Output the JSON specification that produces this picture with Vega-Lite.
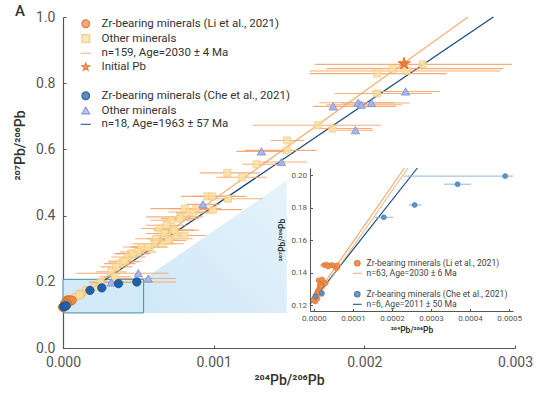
{
"$schema": "https://vega.github.io/schema/vega-lite/v6.json",
"width": 452, "height": 331,
"autosize": {"type": "none"},
"padding": {"left": 63, "top": 17, "right": 45, "bottom": 50},
"background": "white",
"config": {
  "view": {"stroke": null},
  "font": "Roboto",
  "axis": {"grid": false, "labelFlush": false, "domainColor": "#555", "tickColor": "#555", "labelColor": "#555", "titleColor": "#333", "labelFont": "Roboto", "titleFont": "Roboto"},
  "legend": {"labelFont": "Roboto"}
},
"title": {"text": "A", "anchor": "start", "frame": "group", "dx": -48, "dy": 16, "offset": 0, "baseline": "middle", "fontSize": 15, "fontWeight": 500, "color": "#333", "font": "Roboto"},
"datasets": {
  "shade": [{"x": 0.000535, "y": 0.2075, "y2": 0.106}, {"x": 0.001485, "y": 0.506, "y2": 0.106}],
  "box": [{"x": 0, "x2": 0.000535, "y": 0.106, "y2": 0.2075}],
  "mainLines": [
    {"series": "liLine", "x": 0, "y": 0.1215}, {"series": "liLine", "x": 0.002688, "y": 1.0},
    {"series": "cheLine", "x": 0, "y": 0.12}, {"series": "cheLine", "x": 0.002856, "y": 1.0}
  ],
  "insetLines": [
    {"series": "liLine", "x": -0.00001, "y": 0.1208}, {"series": "liLine", "x": 0.000232, "y": 0.2045},
    {"series": "liLineB", "x": -0.000001, "y": 0.121}, {"series": "liLineB", "x": 0.000241, "y": 0.2045},
    {"series": "cheLine", "x": -0.00001, "y": 0.1205}, {"series": "cheLine", "x": 0.000265, "y": 0.2045}
  ],
  "pts": [
    {"series": "liOther", "x": 0.002085, "y": 0.829, "xmin": 0.001638, "xmax": 0.002546},
    {"series": "liOther", "x": 0.002187, "y": 0.844, "xmin": 0.001749, "xmax": 0.002922},
    {"series": "liOther", "x": 0.00228, "y": 0.837, "xmin": 0.001638, "xmax": 0.0029},
    {"series": "liOther", "x": 0.002387, "y": 0.857, "xmin": 0.001671, "xmax": 0.002978},
    {"series": "liOther", "x": 0.002085, "y": 0.769, "xmin": 0.001804, "xmax": 0.002447},
    {"series": "liOther", "x": 0.001693, "y": 0.673, "xmin": 0.00126, "xmax": 0.00211},
    {"series": "liOther", "x": 0.001789, "y": 0.663, "xmin": 0.0017, "xmax": 0.00205},
    {"series": "liOther", "x": 0.001487, "y": 0.627, "xmin": 0.00138, "xmax": 0.0016},
    {"series": "liOther", "x": 0.001487, "y": 0.597, "xmin": 0.001207, "xmax": 0.001683},
    {"series": "liOther", "x": 0.001284, "y": 0.555, "xmin": 0.00119, "xmax": 0.00145},
    {"series": "liOther", "x": 0.001091, "y": 0.529, "xmin": 0.000907, "xmax": 0.001306},
    {"series": "liOther", "x": 0.00119, "y": 0.516, "xmin": 0.001018, "xmax": 0.00135},
    {"series": "liOther", "x": 0.000958, "y": 0.458, "xmin": 0.000785, "xmax": 0.001217},
    {"series": "liOther", "x": 0.000991, "y": 0.458, "xmin": 0.00086, "xmax": 0.00115},
    {"series": "liOther", "x": 0.001095, "y": 0.451, "xmin": 0.00094, "xmax": 0.001325},
    {"series": "liOther", "x": 0.000995, "y": 0.418, "xmin": 0.00086, "xmax": 0.00119},
    {"series": "liOther", "x": 0.000885, "y": 0.421, "xmin": 0.0007, "xmax": 0.00105},
    {"series": "liOther", "x": 0.000807, "y": 0.421, "xmin": 0.00058, "xmax": 0.00098},
    {"series": "liOther", "x": 0.000841, "y": 0.411, "xmin": 0.0007, "xmax": 0.00099},
    {"series": "liOther", "x": 0.000785, "y": 0.396, "xmin": 0.000553, "xmax": 0.000929},
    {"series": "liOther", "x": 0.000719, "y": 0.386, "xmin": 0.00058, "xmax": 0.00086},
    {"series": "liOther", "x": 0.000686, "y": 0.371, "xmin": 0.00055, "xmax": 0.00082},
    {"series": "liOther", "x": 0.000641, "y": 0.361, "xmin": 0.00052, "xmax": 0.00077},
    {"series": "liOther", "x": 0.00073, "y": 0.356, "xmin": 0.0006, "xmax": 0.0009},
    {"series": "liOther", "x": 0.000674, "y": 0.346, "xmin": 0.00055, "xmax": 0.0008},
    {"series": "liOther", "x": 0.000752, "y": 0.34, "xmin": 0.0006, "xmax": 0.00095},
    {"series": "liOther", "x": 0.000807, "y": 0.34, "xmin": 0.0007, "xmax": 0.00093},
    {"series": "liOther", "x": 0.000708, "y": 0.33, "xmin": 0.00056, "xmax": 0.00086},
    {"series": "liOther", "x": 0.000619, "y": 0.33, "xmin": 0.00048, "xmax": 0.00076},
    {"series": "liOther", "x": 0.000663, "y": 0.315, "xmin": 0.00052, "xmax": 0.0008},
    {"series": "liOther", "x": 0.000608, "y": 0.315, "xmin": 0.00046, "xmax": 0.00074},
    {"series": "liOther", "x": 0.000575, "y": 0.305, "xmin": 0.00045, "xmax": 0.0007},
    {"series": "liOther", "x": 0.00052, "y": 0.305, "xmin": 0.0004, "xmax": 0.00064},
    {"series": "liOther", "x": 0.000497, "y": 0.29, "xmin": 0.00038, "xmax": 0.00062},
    {"series": "liOther", "x": 0.000453, "y": 0.285, "xmin": 0.00034, "xmax": 0.00057},
    {"series": "liOther", "x": 0.000431, "y": 0.275, "xmin": 0.00032, "xmax": 0.00055},
    {"series": "liOther", "x": 0.000397, "y": 0.26, "xmin": 0.0003, "xmax": 0.0005},
    {"series": "liOther", "x": 0.000375, "y": 0.255, "xmin": 0.00027, "xmax": 0.00048},
    {"series": "liOther", "x": 0.000353, "y": 0.245, "xmin": 0.00025, "xmax": 0.00046},
    {"series": "liOther", "x": 0.000462, "y": 0.285, "xmin": 0.00035, "xmax": 0.00058},
    {"series": "liOther", "x": 0.00032, "y": 0.23, "xmin": 0.00022, "xmax": 0.00042},
    {"series": "liOther", "x": 0.000342, "y": 0.215, "xmin": 0.00024, "xmax": 0.00045},
    {"series": "liOther", "x": 0.000251, "y": 0.199, "xmin": 0.00017, "xmax": 0.00033},
    {"series": "liOther", "x": 0.000207, "y": 0.184, "xmin": 0.00014, "xmax": 0.00028},
    {"series": "liOther", "x": 0.000154, "y": 0.174, "xmin": 0.0001, "xmax": 0.00021},
    {"series": "liOther", "x": 0.000118, "y": 0.164, "xmin": 0.00007, "xmax": 0.00017},
    {"series": "liOther", "x": 0.000085, "y": 0.154, "xmin": 0.00005, "xmax": 0.00012},
    {"series": "liOther", "x": 0.000052, "y": 0.144, "xmin": 0.00003, "xmax": 0.00008},
    {"series": "liOther", "x": 0.00011, "y": 0.159, "xmin": 0.00007, "xmax": 0.00015},
    {"series": "liOther", "x": 0.000741, "y": 0.356, "xmin": 0.00062, "xmax": 0.00087},
    {"series": "liOther", "x": 0.000696, "y": 0.325, "xmin": 0.00058, "xmax": 0.00082},
    {"series": "liOther", "x": 0.000563, "y": 0.305, "xmin": 0.00045, "xmax": 0.00068},
    {"series": "liOther", "x": 0.000409, "y": 0.262, "xmin": 0.0003, "xmax": 0.00052},
    {"series": "liOther", "x": 0.000774, "y": 0.391, "xmin": 0.00065, "xmax": 0.0009},
    {"series": "liOther", "x": 0.000862, "y": 0.408, "xmin": 0.00075, "xmax": 0.00098},
    {"series": "cheOther", "x": 0.00032, "y": 0.198, "xmin": 0.0002, "xmax": 0.00045},
    {"series": "cheOther", "x": 0.0005, "y": 0.226, "xmin": 0.000085, "xmax": 0.0007},
    {"series": "cheOther", "x": 0.000566, "y": 0.21, "xmin": 0.00033, "xmax": 0.00075},
    {"series": "cheOther", "x": 0.000929, "y": 0.434, "xmin": 0.00082, "xmax": 0.00104},
    {"series": "cheOther", "x": 0.001317, "y": 0.594, "xmin": 0.00115, "xmax": 0.0015},
    {"series": "cheOther", "x": 0.00145, "y": 0.562, "xmin": 0.0013, "xmax": 0.00162},
    {"series": "cheOther", "x": 0.001793, "y": 0.73, "xmin": 0.00166, "xmax": 0.00221},
    {"series": "cheOther", "x": 0.001941, "y": 0.658, "xmin": 0.00182, "xmax": 0.00206},
    {"series": "cheOther", "x": 0.001959, "y": 0.741, "xmin": 0.0017, "xmax": 0.0022},
    {"series": "cheOther", "x": 0.00198, "y": 0.735, "xmin": 0.00175, "xmax": 0.00225},
    {"series": "cheOther", "x": 0.002048, "y": 0.74, "xmin": 0.00185, "xmax": 0.0023},
    {"series": "cheOther", "x": 0.002274, "y": 0.775, "xmin": 0.00205, "xmax": 0.0025},
    {"series": "liZr", "x": 0.000026, "y": 0.1446, "xmin": 0.000016, "xmax": 0.000036, "ymin": 0.1438, "ymax": 0.1454},
    {"series": "liZr", "x": 0.000033, "y": 0.1449, "xmin": 0.000023, "xmax": 0.000043, "ymin": 0.1441, "ymax": 0.1457},
    {"series": "liZr", "x": 0.00004, "y": 0.1443, "xmin": 0.00003, "xmax": 0.00005, "ymin": 0.1435, "ymax": 0.1451},
    {"series": "liZr", "x": 0.000046, "y": 0.1447, "xmin": 0.000036, "xmax": 0.000056, "ymin": 0.1439, "ymax": 0.1455},
    {"series": "liZr", "x": 0.000052, "y": 0.1441, "xmin": 0.000042, "xmax": 0.000062, "ymin": 0.1433, "ymax": 0.1449},
    {"series": "liZr", "x": 0.000058, "y": 0.1426, "xmin": 0.000048, "xmax": 0.000068, "ymin": 0.1418, "ymax": 0.1434},
    {"series": "liZr", "x": 0.000036, "y": 0.1437, "xmin": 0.000026, "xmax": 0.000046, "ymin": 0.1429, "ymax": 0.1445},
    {"series": "liZr", "x": 0.00006, "y": 0.1445, "xmin": 0.00005, "xmax": 0.00007, "ymin": 0.1437, "ymax": 0.1453},
    {"series": "liZr", "x": 0.000012, "y": 0.1352, "xmin": 0.000005, "xmax": 0.000019, "ymin": 0.1344, "ymax": 0.136},
    {"series": "liZr", "x": 0.000018, "y": 0.1338, "xmin": 0.000011, "xmax": 0.000025, "ymin": 0.133, "ymax": 0.1346},
    {"series": "liZr", "x": 0.000022, "y": 0.1346, "xmin": 0.000015, "xmax": 0.000029, "ymin": 0.1338, "ymax": 0.1354},
    {"series": "liZr", "x": 0.000026, "y": 0.1331, "xmin": 0.000019, "xmax": 0.000033, "ymin": 0.1323, "ymax": 0.1339},
    {"series": "liZr", "x": 0.000015, "y": 0.1326, "xmin": 0.000008, "xmax": 0.000022, "ymin": 0.1318, "ymax": 0.1334},
    {"series": "liZr", "x": 0.00003, "y": 0.1336, "xmin": 0.000023, "xmax": 0.000037, "ymin": 0.1328, "ymax": 0.1344},
    {"series": "liZr", "x": 0.000021, "y": 0.1358, "xmin": 0.000014, "xmax": 0.000028, "ymin": 0.135, "ymax": 0.1366},
    {"series": "liZr", "x": 0.0, "y": 0.1235, "xmin": -0.000005, "xmax": 0.000005, "ymin": 0.1228, "ymax": 0.1242},
    {"series": "liZr", "x": 0.000002, "y": 0.1248, "xmin": -0.000003, "xmax": 0.000007, "ymin": 0.1241, "ymax": 0.1255},
    {"series": "liZr", "x": 0.000005, "y": 0.1262, "xmin": 0.0, "xmax": 0.00001, "ymin": 0.1255, "ymax": 0.1269},
    {"series": "liZr", "x": 0.000008, "y": 0.1275, "xmin": 0.000003, "xmax": 0.000013, "ymin": 0.1268, "ymax": 0.1282},
    {"series": "liZr", "x": 0.00001, "y": 0.1284, "xmin": 0.000005, "xmax": 0.000015, "ymin": 0.1277, "ymax": 0.1291},
    {"series": "liZr", "x": 0.000004, "y": 0.1222, "xmin": -0.000001, "xmax": 0.000009, "ymin": 0.1215, "ymax": 0.1229},
    {"series": "liZr", "x": 0.000012, "y": 0.1296, "xmin": 0.000007, "xmax": 0.000017, "ymin": 0.1289, "ymax": 0.1303},
    {"series": "liZr", "x": 0.000015, "y": 0.1306, "xmin": 0.00001, "xmax": 0.00002, "ymin": 0.1299, "ymax": 0.1313},
    {"series": "liZr", "x": -0.000002, "y": 0.1229, "xmin": -0.000007, "xmax": 0.000003, "ymin": 0.1222, "ymax": 0.1236},
    {"series": "liZr", "x": 0.000007, "y": 0.1256, "xmin": 0.000002, "xmax": 0.000012, "ymin": 0.1249, "ymax": 0.1263},
    {"series": "liZr", "x": 0.000018, "y": 0.1316, "xmin": 0.000013, "xmax": 0.000023, "ymin": 0.1309, "ymax": 0.1323},
    {"series": "liZr", "x": 0.00002, "y": 0.1268, "xmin": 0.000015, "xmax": 0.000025, "ymin": 0.1261, "ymax": 0.1275},
    {"series": "liZr", "x": 0.000009, "y": 0.124, "xmin": 0.000004, "xmax": 0.000014, "ymin": 0.1233, "ymax": 0.1247},
    {"series": "liZr", "x": 0.000013, "y": 0.128, "xmin": 0.000008, "xmax": 0.000018, "ymin": 0.1273, "ymax": 0.1287},
    {"series": "cheZr", "x": 0.000004, "y": 0.1252, "xmin": -0.000004, "xmax": 0.000012, "ymin": 0.1242, "ymax": 0.1262},
    {"series": "cheZr", "x": 0.00002, "y": 0.1274, "xmin": 0.000012, "xmax": 0.000028, "ymin": 0.1262, "ymax": 0.1286},
    {"series": "cheZr", "x": 0.000179, "y": 0.1741, "xmin": 0.000155, "xmax": 0.000203, "ymin": 0.1728, "ymax": 0.1754},
    {"series": "cheZr", "x": 0.000258, "y": 0.1817, "xmin": 0.000243, "xmax": 0.000275, "ymin": 0.1805, "ymax": 0.1829},
    {"series": "cheZr", "x": 0.000368, "y": 0.1945, "xmin": 0.000333, "xmax": 0.000402, "ymin": 0.1932, "ymax": 0.1958},
    {"series": "cheZr", "x": 0.00049, "y": 0.1995, "xmin": 0.00023, "xmax": 0.00075, "ymin": 0.1982, "ymax": 0.2008},
    {"series": "initPb", "x": 0.002264, "y": 0.859}
  ]
},
"resolve": {
  "scale": {"x": "independent", "y": "independent", "fill": "independent", "stroke": "independent", "shape": "independent"},
  "axis": {"x": "independent", "y": "independent"},
  "legend": {"fill": "independent", "stroke": "independent", "shape": "independent"}
},
"layer": [
  {
    "layer": [
      {
        "data": {"name": "shade"},
        "mark": {"type": "area", "color": {"gradient": "linear", "x1": 0, "y1": 1, "x2": 1, "y2": 0, "stops": [{"offset": 0, "color": "#cfe8f7"}, {"offset": 1, "color": "#e6f3fb"}]}},
        "encoding": {
          "x": {"field": "x", "type": "quantitative", "scale": {"domain": [0, 0.003], "nice": false, "zero": false},
                "axis": {"orient": "bottom", "values": [0, 0.001, 0.002, 0.003], "format": ".3f", "title": "²⁰⁴Pb/²⁰⁶Pb", "tickSize": -3, "labelPadding": 10, "labelFontSize": 14, "titleFontSize": 14, "titleFontWeight": 500, "titlePadding": 4, "domainWidth": 1.2}},
          "y": {"field": "y", "type": "quantitative", "scale": {"domain": [0, 1], "nice": false, "zero": false},
                "axis": {"orient": "left", "values": [0, 0.2, 0.4, 0.6, 0.8, 1.0], "format": ".1f", "title": "²⁰⁷Pb/²⁰⁶Pb", "tickSize": -3, "labelPadding": 11, "labelFontSize": 14, "titleFontSize": 14, "titleFontWeight": 500, "titleX": -43, "titleY": 128, "titleBaseline": "middle", "domainWidth": 1.2}},
          "y2": {"field": "y2"}
        }
      },
      {
        "data": {"name": "box"},
        "mark": {"type": "rect", "fill": "#d2eaf8", "stroke": "#3f8fa8", "strokeWidth": 1},
        "encoding": {
          "x": {"field": "x", "type": "quantitative", "scale": {"domain": [0, 0.003], "nice": false, "zero": false}},
          "x2": {"field": "x2"},
          "y": {"field": "y", "type": "quantitative", "scale": {"domain": [0, 1], "nice": false, "zero": false}},
          "y2": {"field": "y2"}
        }
      },
      {
        "data": {"name": "mainLines"},
        "mark": {"type": "line", "strokeWidth": 1.3},
        "encoding": {
          "x": {"field": "x", "type": "quantitative", "scale": {"domain": [0, 0.003], "nice": false, "zero": false}},
          "y": {"field": "y", "type": "quantitative", "scale": {"domain": [0, 1], "nice": false, "zero": false}},
          "stroke": {"field": "series", "type": "nominal",
            "scale": {"domain": ["liZr", "liOther", "liLine", "initPb", "gap", "cheZr", "cheOther", "cheLine"], "range": ["#cf6e2c", "#f2c678", "#f5b27c", "#dc6820", "transparent", "#164d8e", "#7289d2", "#1b4b7e"]},
            "legend": {"orient": "none", "legendX": 17, "legendY": 1, "title": null, "labelFontSize": 11.5, "labelColor": "#333", "labelLimit": 400, "symbolSize": 60, "symbolStrokeWidth": 1.2, "labelOffset": 10, "rowPadding": 0.8, "padding": 0,
              "labelExpr": "datum.value=='liZr'?'Zr-bearing minerals (Li et al., 2021)':datum.value=='liOther'?'Other minerals':datum.value=='liLine'?'n=159, Age=2030 ± 4 Ma':datum.value=='initPb'?'Initial Pb':datum.value=='cheZr'?'Zr-bearing minerals (Che et al., 2021)':datum.value=='cheOther'?'Other minerals':datum.value=='cheLine'?'n=18, Age=1963 ± 57 Ma':''"}}
        }
      },
      {
        "data": {"name": "pts"},
        "transform": [{"filter": "datum.xmin != null"}],
        "mark": {"type": "rule", "stroke": "#f4a46c", "strokeWidth": 1.1, "opacity": 0.9},
        "encoding": {
          "x": {"field": "xmin", "type": "quantitative", "scale": {"domain": [0, 0.003], "nice": false, "zero": false}},
          "x2": {"field": "xmax"},
          "y": {"field": "y", "type": "quantitative", "scale": {"domain": [0, 1], "nice": false, "zero": false}}
        }
      },
      {
        "data": {"name": "pts"},
        "transform": [{"filter": {"field": "series", "equal": "liOther"}}],
        "mark": {"type": "point", "filled": true, "size": 50, "strokeWidth": 0.8, "opacity": 0.85},
        "encoding": {
          "x": {"field": "x", "type": "quantitative", "scale": {"domain": [0, 0.003], "nice": false, "zero": false}},
          "y": {"field": "y", "type": "quantitative", "scale": {"domain": [0, 1], "nice": false, "zero": false}},
          "fill": {"field": "series", "type": "nominal",
            "scale": {"domain": ["liZr", "liOther", "liLine", "initPb", "gap", "cheZr", "cheOther", "cheLine"], "range": ["#ec8a48", "#fbe0a2", "transparent", "#ef7d31", "transparent", "#1f60aa", "#a3b5e9", "transparent"]}},
          "stroke": {"field": "series", "type": "nominal",
            "scale": {"domain": ["liZr", "liOther", "liLine", "initPb", "gap", "cheZr", "cheOther", "cheLine"], "range": ["#cf6e2c", "#f2c678", "#f5b27c", "#dc6820", "transparent", "#164d8e", "#7289d2", "#1b4b7e"]}},
          "shape": {"field": "series", "type": "nominal",
            "scale": {"domain": ["liZr", "liOther", "liLine", "initPb", "gap", "cheZr", "cheOther", "cheLine"], "range": ["circle", "square", "M-1.3,0H1.3", "M0,-1L0.2245,-0.309L0.951,-0.309L0.363,0.118L0.588,0.809L0,0.382L-0.588,0.809L-0.363,0.118L-0.951,-0.309L-0.2245,-0.309Z", "circle", "circle", "triangle-up", "M-1.3,0H1.3"]}}
        }
      },
      {
        "data": {"name": "pts"},
        "transform": [{"filter": {"field": "series", "equal": "cheOther"}}],
        "mark": {"type": "point", "filled": true, "size": 70, "strokeWidth": 0.8, "opacity": 0.95},
        "encoding": {
          "x": {"field": "x", "type": "quantitative", "scale": {"domain": [0, 0.003], "nice": false, "zero": false}},
          "y": {"field": "y", "type": "quantitative", "scale": {"domain": [0, 1], "nice": false, "zero": false}},
          "fill": {"field": "series", "type": "nominal"},
          "stroke": {"field": "series", "type": "nominal"},
          "shape": {"field": "series", "type": "nominal"}
        }
      },
      {
        "data": {"name": "pts"},
        "transform": [{"filter": {"field": "series", "equal": "liZr"}}],
        "mark": {"type": "point", "filled": true, "size": 70, "strokeWidth": 0.8, "opacity": 0.95},
        "encoding": {
          "x": {"field": "x", "type": "quantitative", "scale": {"domain": [0, 0.003], "nice": false, "zero": false}},
          "y": {"field": "y", "type": "quantitative", "scale": {"domain": [0, 1], "nice": false, "zero": false}},
          "fill": {"field": "series", "type": "nominal"},
          "stroke": {"field": "series", "type": "nominal"},
          "shape": {"field": "series", "type": "nominal"}
        }
      },
      {
        "data": {"name": "pts"},
        "transform": [{"filter": {"field": "series", "equal": "cheZr"}}],
        "mark": {"type": "point", "filled": true, "size": 70, "strokeWidth": 0.8, "opacity": 1},
        "encoding": {
          "x": {"field": "x", "type": "quantitative", "scale": {"domain": [0, 0.003], "nice": false, "zero": false}},
          "y": {"field": "y", "type": "quantitative", "scale": {"domain": [0, 1], "nice": false, "zero": false}},
          "fill": {"field": "series", "type": "nominal"},
          "stroke": {"field": "series", "type": "nominal"},
          "shape": {"field": "series", "type": "nominal"}
        }
      },
      {
        "data": {"name": "pts"},
        "transform": [{"filter": {"field": "series", "equal": "initPb"}}],
        "mark": {"type": "point", "filled": true, "size": 170, "strokeWidth": 0.8, "opacity": 1},
        "encoding": {
          "x": {"field": "x", "type": "quantitative", "scale": {"domain": [0, 0.003], "nice": false, "zero": false}},
          "y": {"field": "y", "type": "quantitative", "scale": {"domain": [0, 1], "nice": false, "zero": false}},
          "fill": {"field": "series", "type": "nominal"},
          "stroke": {"field": "series", "type": "nominal"},
          "shape": {"field": "series", "type": "nominal"}
        }
      }
    ]
  },
  {
    "layer": [
      {
        "data": {"name": "insetLines"},
        "transform": [{"filter": "datum.series != 'liLineB'"}],
        "mark": {"type": "line", "strokeWidth": 1.2},
        "encoding": {
          "x": {"field": "x", "type": "quantitative", "scale": {"domain": [-0.00001, 0.00051], "range": [247, 450], "nice": false, "zero": false, "clamp": true},
                "axis": {"orient": "bottom", "offset": -37, "zindex": 1, "values": [0, 0.0001, 0.0002, 0.0003, 0.0004, 0.0005], "format": ".4f", "labelFontSize": 8, "tickSize": -2.5, "labelPadding": 6, "title": "²⁰⁴Pb/²⁰⁶Pb", "titleFontSize": 8.5, "titleFontWeight": 600, "titlePadding": 3}},
          "y": {"field": "y", "type": "quantitative", "scale": {"domain": [0.1163, 0.2045], "range": [294, 151], "nice": false, "zero": false, "clamp": true},
                "axis": {"orient": "left", "offset": -247, "zindex": 1, "values": [0.12, 0.14, 0.16, 0.18, 0.2], "format": ".2f", "labelFontSize": 8, "tickSize": -2.5, "labelPadding": 6, "title": "²⁰⁷Pb/²⁰⁶Pb", "titleFontSize": 8.5, "titleFontWeight": 600, "titlePadding": 4}},
          "stroke": {"field": "series", "type": "nominal",
            "scale": {"domain": ["liZr", "liLine", "gap", "cheZr", "cheLine"], "range": ["#d77331", "#f3ac72", "transparent", "#3f76ad", "#1b4b7e"]},
            "legend": {"orient": "none", "legendX": 290, "legendY": 242, "title": null, "labelFontSize": 8.6, "labelColor": "#444", "labelLimit": 300, "symbolSize": 30, "symbolStrokeWidth": 1.1, "labelOffset": 5, "rowPadding": 0, "padding": 0,
              "labelExpr": "datum.value=='liZr'?'Zr-bearing minerals (Li et al., 2021)':datum.value=='liLine'?'n=63, Age=2030 ± 6 Ma':datum.value=='cheZr'?'Zr-bearing minerals (Che et al., 2021)':datum.value=='cheLine'?'n=6, Age=2011 ± 50 Ma':''"}}
        }
      },
      {
        "data": {"name": "insetLines"},
        "transform": [{"filter": "datum.series == 'liLineB'"}],
        "mark": {"type": "line", "strokeWidth": 0.9, "stroke": "#eea06a"},
        "encoding": {
          "x": {"field": "x", "type": "quantitative", "scale": {"domain": [-0.00001, 0.00051], "range": [247, 450], "nice": false, "zero": false, "clamp": true}},
          "y": {"field": "y", "type": "quantitative", "scale": {"domain": [0.1163, 0.2045], "range": [294, 151], "nice": false, "zero": false, "clamp": true}}
        }
      },
      {
        "data": {"name": "pts"},
        "transform": [{"filter": {"field": "series", "equal": "cheZr"}}],
        "mark": {"type": "rule", "stroke": "#8db4d9", "strokeWidth": 1},
        "encoding": {
          "x": {"field": "xmin", "type": "quantitative", "scale": {"domain": [-0.00001, 0.00051], "range": [247, 450], "nice": false, "zero": false, "clamp": true}},
          "x2": {"field": "xmax"},
          "y": {"field": "y", "type": "quantitative", "scale": {"domain": [0.1163, 0.2045], "range": [294, 151], "nice": false, "zero": false, "clamp": true}}
        }
      },
      {
        "data": {"name": "pts"},
        "transform": [{"filter": {"field": "series", "equal": "cheZr"}}],
        "mark": {"type": "rule", "stroke": "#8db4d9", "strokeWidth": 1},
        "encoding": {
          "x": {"field": "x", "type": "quantitative", "scale": {"domain": [-0.00001, 0.00051], "range": [247, 450], "nice": false, "zero": false, "clamp": true}},
          "y": {"field": "ymin", "type": "quantitative", "scale": {"domain": [0.1163, 0.2045], "range": [294, 151], "nice": false, "zero": false, "clamp": true}},
          "y2": {"field": "ymax"}
        }
      },
      {
        "data": {"name": "pts"},
        "transform": [{"filter": {"field": "series", "equal": "liZr"}}],
        "mark": {"type": "rule", "stroke": "#f0a26a", "strokeWidth": 1},
        "encoding": {
          "x": {"field": "xmin", "type": "quantitative", "scale": {"domain": [-0.00001, 0.00051], "range": [247, 450], "nice": false, "zero": false, "clamp": true}},
          "x2": {"field": "xmax"},
          "y": {"field": "y", "type": "quantitative", "scale": {"domain": [0.1163, 0.2045], "range": [294, 151], "nice": false, "zero": false, "clamp": true}}
        }
      },
      {
        "data": {"name": "pts"},
        "transform": [{"filter": {"field": "series", "equal": "liZr"}}],
        "mark": {"type": "rule", "stroke": "#f0a26a", "strokeWidth": 1},
        "encoding": {
          "x": {"field": "x", "type": "quantitative", "scale": {"domain": [-0.00001, 0.00051], "range": [247, 450], "nice": false, "zero": false, "clamp": true}},
          "y": {"field": "ymin", "type": "quantitative", "scale": {"domain": [0.1163, 0.2045], "range": [294, 151], "nice": false, "zero": false, "clamp": true}},
          "y2": {"field": "ymax"}
        }
      },
      {
        "data": {"name": "pts"},
        "transform": [{"filter": {"field": "series", "oneOf": ["liZr", "cheZr"]}}],
        "mark": {"type": "point", "filled": true, "size": 25, "strokeWidth": 0.6, "opacity": 0.95},
        "encoding": {
          "x": {"field": "x", "type": "quantitative", "scale": {"domain": [-0.00001, 0.00051], "range": [247, 450], "nice": false, "zero": false, "clamp": true}},
          "y": {"field": "y", "type": "quantitative", "scale": {"domain": [0.1163, 0.2045], "range": [294, 151], "nice": false, "zero": false, "clamp": true}},
          "fill": {"field": "series", "type": "nominal",
            "scale": {"domain": ["liZr", "liLine", "gap", "cheZr", "cheLine"], "range": ["#ee8e4e", "transparent", "transparent", "#5b8fc5", "transparent"]}},
          "stroke": {"field": "series", "type": "nominal"},
          "shape": {"field": "series", "type": "nominal",
            "scale": {"domain": ["liZr", "liLine", "gap", "cheZr", "cheLine"], "range": ["circle", "M-1.6,0H1.6", "circle", "circle", "M-1.6,0H1.6"]}}
        }
      }
    ]
  }
]
}
